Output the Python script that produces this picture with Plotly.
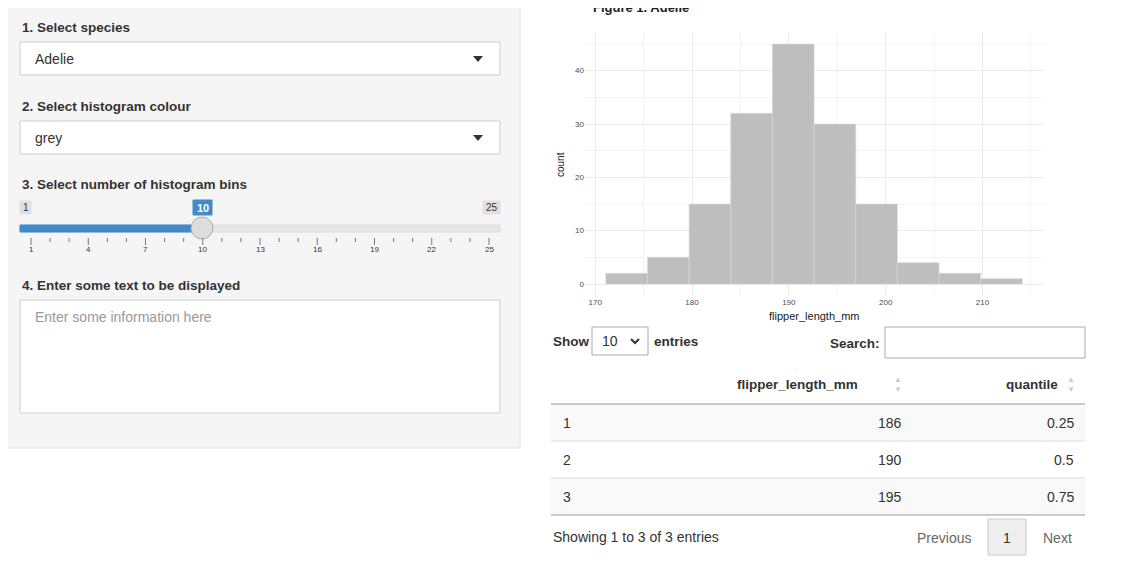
import plotly.graph_objects as go

W, H = 1148, 586
OFF = 8  # page body margin offsets the figure

# histogram data (10 bins of Adelie flipper length)
bin_left = [171.1, 175.4, 179.7, 184.0, 188.3, 192.6, 196.9, 201.2, 205.5, 209.8]
bin_width = 4.31
counts = [2, 5, 15, 32, 45, 30, 15, 4, 2, 1]

# quantile table
row_ids = ["1", "2", "3"]
flipper_q = ["186", "190", "195"]
quantiles = ["0.25", "0.5", "0.75"]

slider_ticks = ["1", "4", "7", "10", "13", "16", "19", "22", "25"]

FONT = "Liberation Sans, Arial"


def X(px):
    return (px - OFF) / W


def Y(py):
    return 1 - (py - OFF) / H


shapes = []
annots = []


def rect(x0, y0, x1, y1, fill="white", line="#cccccc", lw=1):
    shapes.append(dict(type="rect", xref="paper", yref="paper",
                       x0=X(x0), x1=X(x1), y0=Y(y1), y1=Y(y0),
                       fillcolor=fill, line=dict(color=line, width=lw), layer="below"))


def hline(x0, x1, y, color="#dddddd", lw=1):
    shapes.append(dict(type="line", xref="paper", yref="paper",
                       x0=X(x0), x1=X(x1), y0=Y(y), y1=Y(y), line=dict(color=color, width=lw)))


def text(x, y, s, size=14, color="#333333", bold=False, xanchor="left", angle=0):
    if bold:
        s = "<b>" + s + "</b>"
    annots.append(dict(x=X(x), y=Y(y), xref="paper", yref="paper", text=s, showarrow=False,
                       xanchor=xanchor, yanchor="middle", textangle=angle,
                       font=dict(family=FONT, size=size, color=color)))


def caret(x, y):
    shapes.append(dict(type="path", xref="paper", yref="paper",
                       path=f"M {X(x-5)},{Y(y-3)} L {X(x+5)},{Y(y-3)} L {X(x)},{Y(y+3)} Z",
                       fillcolor="#333333", line=dict(width=0)))


# ── sidebar ──
rect(0, -10, 520, 448, fill="#f5f5f5", line="#e3e3e3")
text(20, 27, "1. Select species", size=13.5, bold=True)
rect(20, 42, 500, 75)
text(33, 59, "Adelie")
caret(478, 59)
text(20, 106, "2. Select histogram colour", size=13.5, bold=True)
rect(20, 121, 500, 154)
text(33, 138, "grey")
caret(478, 138)
text(20, 185, "3. Select number of histogram bins", size=13.5, bold=True)
rect(20, 201, 31, 214, fill="#e0e0e0", line="#e0e0e0")
text(25.5, 207.5, "1", size=10, color="#333333", xanchor="center")
rect(193, 200, 212, 215, fill="#428bca", line="#428bca")
text(202.5, 207.5, "10", size=11, color="white", bold=True, xanchor="center")
rect(483, 201, 500, 214, fill="#e0e0e0", line="#e0e0e0")
text(491.5, 207.5, "25", size=10, color="#333333", xanchor="center")
rect(20, 225, 500, 232, fill="#e6e6e6", line="#dddddd")
rect(20, 225, 202, 232, fill="#428bca", line="#428bca")
shapes.append(dict(type="circle", xref="paper", yref="paper",
                   x0=X(191), x1=X(213), y0=Y(239), y1=Y(217),
                   fillcolor="#dddddd", line=dict(color="#aaaaaa", width=1)))
for i in range(25):
    px = 31 + i * (489 - 31) / 24
    major = i % 3 == 0
    shapes.append(dict(type="line", xref="paper", yref="paper", x0=X(px), x1=X(px),
                       y0=Y(238), y1=Y(245 if major else 242), line=dict(color="#777777", width=1)))
for i, lab in enumerate(slider_ticks):
    text(31 + i * (489 - 31) / 8, 250, lab, size=8, color="#333333", xanchor="center")
text(20, 285, "4. Enter some text to be displayed", size=13.5, bold=True)
rect(20, 300, 500, 413)
text(33, 317, "Enter some information here", color="#999999")

# ── figure title / axis titles ──
text(591, 7, "Figure 1. Adelie", size=13, color="#222222", bold=True)
text(560, 165, "count", size=10, color="#222222", xanchor="center", angle=-90)
text(814, 316, "flipper_length_mm", size=11, color="#222222", xanchor="center")

# ── table ──
text(551, 341, "Show", size=13.5, bold=True)
rect(592, 327, 648, 355, line="#aaaaaa")
text(600, 341, "10", size=14)
shapes.append(dict(type="path", xref="paper", yref="paper",
                   path=f"M {X(631)},{Y(339)} L {X(635)},{Y(343)} L {X(639)},{Y(339)}",
                   line=dict(color="#333333", width=2)))
text(652, 341, "entries", size=13.5, bold=True)
text(882, 343, "Search:", size=13.5, bold=True, xanchor="right")
rect(885, 327, 1085, 358, line="#aaaaaa")
text(860, 384, "flipper_length_mm", size=13.5, bold=True, xanchor="right")
text(1060, 384, "quantile", size=13.5, bold=True, xanchor="right")
for ax in (898, 1071):
    text(ax, 379, "▲", size=8, color="#cccccc", xanchor="center")
    text(ax, 389, "▼", size=8, color="#cccccc", xanchor="center")
hline(551, 1085, 404, color="#999999")
for i in range(3):
    top = 404 + i * 37
    if i % 2 == 0:
        rect(551, top, 1085, top + 37, fill="#f9f9f9", line="#f9f9f9")
    hline(551, 1085, top + 37, color="#999999" if i == 2 else "#dddddd")
    text(561, top + 19, row_ids[i])
    text(904, top + 19, flipper_q[i], xanchor="right")
    text(1076, top + 19, quantiles[i], xanchor="right")
text(551, 537, "Showing 1 to 3 of 3 entries")
text(944, 538, "Previous", color="#666666", xanchor="center")
rect(988, 519, 1026, 555, fill="#eeeeee", line="#cccccc")
text(1007, 538, "1", xanchor="center")
text(1057, 538, "Next", color="#666666", xanchor="center")

# ── histogram ──
fig = go.Figure(go.Bar(
    x=[b + bin_width / 2 for b in bin_left], y=counts, width=bin_width,
    marker=dict(color="#bebebe", line=dict(color="#d9d9d9", width=0.6)),
    hoverinfo="x+y"))

fig.update_layout(
    width=W, height=H, margin=dict(l=0, r=0, t=0, b=0),
    paper_bgcolor="white", plot_bgcolor="white", showlegend=False,
    shapes=shapes, annotations=annots,
    xaxis=dict(domain=[X(585), X(1044)], range=[168.95, 216.35],
               tickvals=[170, 180, 190, 200, 210], showgrid=True, gridcolor="#ebebeb",
               minor=dict(dtick=5, tick0=0, showgrid=True, gridcolor="#f4f4f4"),
               zeroline=False, ticks="", tickfont=dict(size=8, color="#4d4d4d", family=FONT)),
    yaxis=dict(domain=[Y(296), Y(32)], range=[-2.25, 47.25],
               tickvals=[0, 10, 20, 30, 40], showgrid=True, gridcolor="#ebebeb",
               minor=dict(dtick=5, tick0=0, showgrid=True, gridcolor="#f4f4f4"),
               zeroline=False, ticks="", tickfont=dict(size=8, color="#4d4d4d", family=FONT)),
)

fig.write_html("out.html")
